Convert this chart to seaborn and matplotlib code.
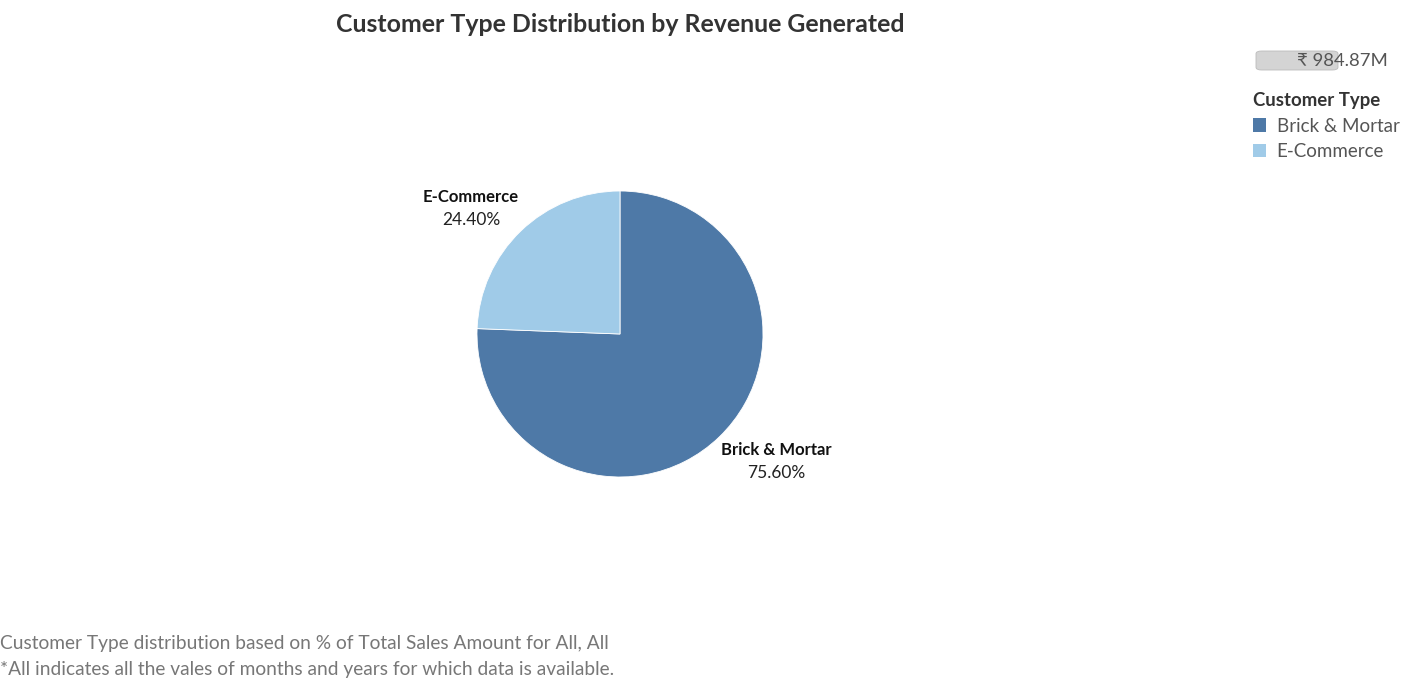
import numpy as np
import matplotlib
matplotlib.use("Agg")
import matplotlib.pyplot as plt
import seaborn as sns
from matplotlib.patches import Patch, FancyBboxPatch

# data
customer_types = ["Brick & Mortar", "E-Commerce"]
revenue_share = [75.60, 24.40]
total_revenue = "₹ 984.87M"
colors = ["#4e79a7", "#a0cbe8"]

sns.set_theme(style="white")
plt.rcParams["font.family"] = ["Lato", "Noto Sans", "DejaVu Sans"]

W, H = 1405, 679
fig = plt.figure(figsize=(W / 100, H / 100), dpi=100)

# pie centred at (620, 334) px with radius ~143 px
cx, cy, r = 620, 334, 143
ax = fig.add_axes([(cx - r) / W, (H - cy - r) / H, 2 * r / W, 2 * r / H])
wedges, _ = ax.pie(revenue_share, colors=colors, startangle=90, counterclock=False,
                   wedgeprops=dict(edgecolor="white", linewidth=0.6))
ax.set_xlim(-1, 1)
ax.set_ylim(-1, 1)
ax.set_aspect("equal")
ax.axis("off")

# slice labels (offset outside the pie)
label_pos = {"E-Commerce": (-1.042, 0.958), "Brick & Mortar": (1.091, -0.811)}
for name, pct in zip(customer_types, revenue_share):
    x, y = label_pos[name]
    ax.text(x, y, name, ha="center", va="center", fontsize=12, fontweight="bold",
            color="#111111", clip_on=False)
    ax.text(x, y - 0.16, f"{pct:.2f}%", ha="center", va="center", fontsize=12.5,
            color="#222222", clip_on=False)

fig.text(620 / W, 1 - 24 / H, "Customer Type Distribution by Revenue Generated",
         ha="center", va="center", fontsize=17.9, fontweight="bold", color="#333333")

# total revenue size-legend bar
bar = FancyBboxPatch((1256 / W, 1 - 70 / H), 82 / W, 19 / H,
                     boxstyle="round,pad=0,rounding_size=0.004",
                     transform=fig.transFigure, facecolor="#d4d4d4", edgecolor="#bbbbbb",
                     linewidth=0.6)
fig.patches.append(bar)
fig.text(1388 / W, 1 - 61 / H, total_revenue, ha="right", va="center", fontsize=13.3,
         color="#555555")

handles = [Patch(facecolor=c, edgecolor="none") for c in colors]
leg = fig.legend(handles, customer_types, loc="upper left",
                 bbox_to_anchor=(1240 / W, 1 - 79 / H), frameon=False,
                 title="Customer Type", title_fontproperties={"weight": "bold", "size": 13.4},
                 fontsize=13.5, handlelength=0.7, handleheight=0.7, handletextpad=0.55,
                 labelspacing=0.45, alignment="left", borderpad=0.2)
for t in leg.get_texts():
    t.set_color("#555555")
leg.get_title().set_color("#333333")

fig.text(0, 1 - 643 / H, "Customer Type distribution based on % of Total Sales Amount for All, All",
         ha="left", va="center", fontsize=13.8, color="#777777")
fig.text(0, 1 - 669 / H, "*All indicates all the vales of months and years for which data is available.",
         ha="left", va="center", fontsize=13.8, color="#777777")

fig.savefig("out.png", dpi=100)
